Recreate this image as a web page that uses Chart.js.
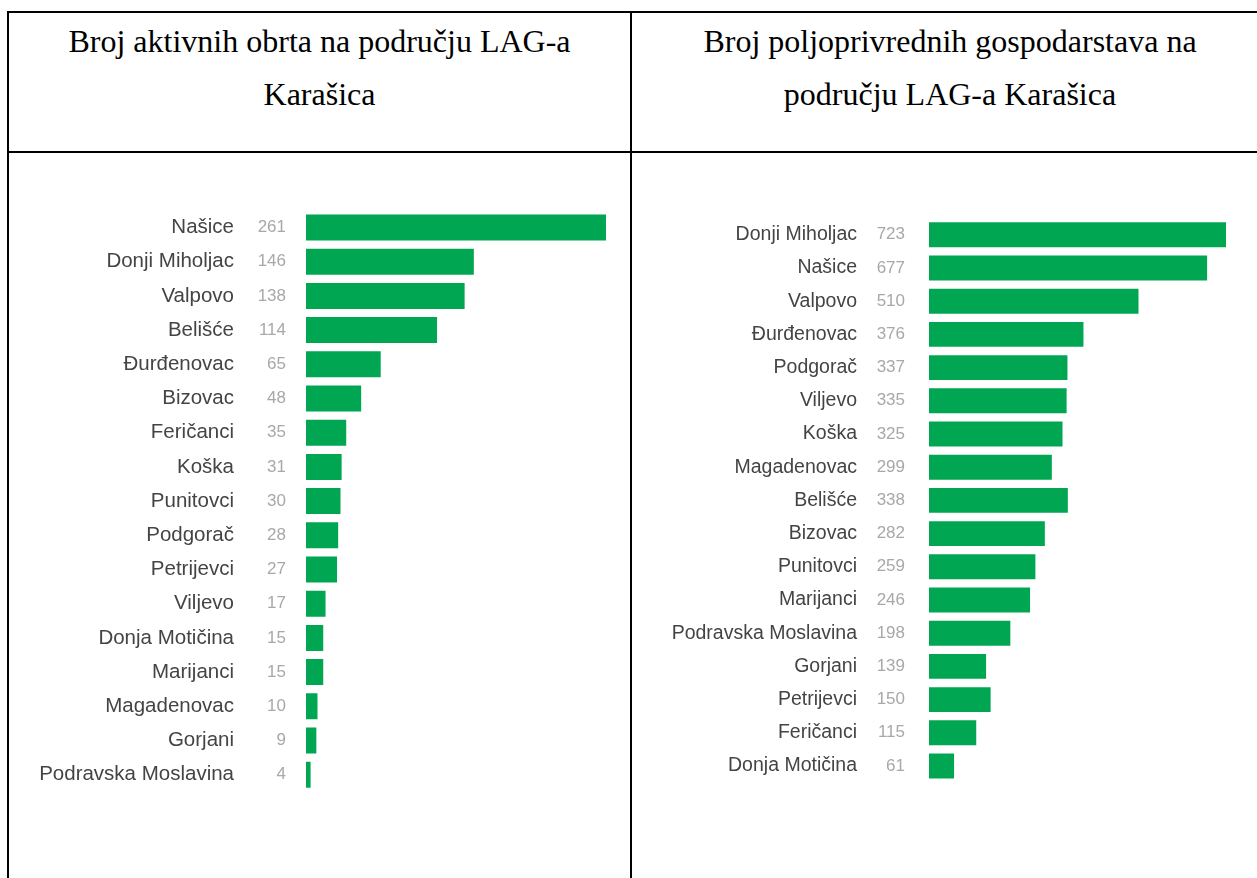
<!DOCTYPE html>
<html lang="hr">
<head>
<meta charset="UTF-8">
<title>LAG Karašica</title>
<script src="https://cdn.jsdelivr.net/npm/chart.js"></script>
<style>
  html, body { margin: 0; padding: 0; background: #fff; overflow: hidden; }
  body { width: 1257px; height: 878px; position: relative; }
  .line { position: absolute; background: #000; }
  .head { position: absolute; top: 15px; font-family: "Liberation Serif", "Times New Roman", serif;
          font-size: 32px; line-height: 53px; text-align: center; color: #000; }
  .box { position: absolute; top: 160px; }
</style>
</head>
<body>
  <!-- table borders -->
  <div class="line" style="left:7px; top:11px; width:1270px; height:2px"></div>
  <div class="line" style="left:7px; top:151px; width:1270px; height:2px"></div>
  <div class="line" style="left:7px; top:11px; width:2px; height:900px"></div>
  <div class="line" style="left:630px; top:11px; width:2px; height:900px"></div>

  <div class="head" style="left:9px; width:621px">Broj aktivnih obrta na području LAG-a<br>Karašica</div>
  <div class="head" style="left:632px; width:636px">Broj poljoprivrednih gospodarstava na<br>području LAG-a Karašica</div>

  <div class="box" style="left:10px"><canvas id="obrti" width="618" height="700"></canvas></div>
  <div class="box" style="left:633px"><canvas id="gospodarstva" width="624" height="700"></canvas></div>

<script>
// aktivni obrti
const obrtiMjesta = ['Našice', 'Donji Miholjac', 'Valpovo', 'Belišće', 'Đurđenovac', 'Bizovac',
  'Feričanci', 'Koška', 'Punitovci', 'Podgorač', 'Petrijevci', 'Viljevo', 'Donja Motičina',
  'Marijanci', 'Magadenovac', 'Gorjani', 'Podravska Moslavina'];
const obrtiBroj = [261, 146, 138, 114, 65, 48, 35, 31, 30, 28, 27, 17, 15, 15, 10, 9, 4];

// poljoprivredna gospodarstva
const gospMjesta = ['Donji Miholjac', 'Našice', 'Valpovo', 'Đurđenovac', 'Podgorač', 'Viljevo',
  'Koška', 'Magadenovac', 'Belišće', 'Bizovac', 'Punitovci', 'Marijanci', 'Podravska Moslavina',
  'Gorjani', 'Petrijevci', 'Feričanci', 'Donja Motičina'];
const gospBroj = [723, 677, 510, 376, 337, 335, 325, 299, 338, 282, 259, 246, 198, 139, 150, 115, 61];

const ZELENA = '#00a651';

function napraviGraf(id, mjesta, broj, o) {
  new Chart(document.getElementById(id), {
    type: 'bar',
    data: {
      labels: mjesta,
      datasets: [{ data: broj, backgroundColor: ZELENA, borderWidth: 0,
                   barPercentage: o.bar, categoryPercentage: 1 }]
    },
    options: {
      indexAxis: 'y',
      responsive: false,
      animation: false,
      layout: { padding: { left: 0, right: o.right, top: o.top, bottom: o.bottom } },
      plugins: { legend: { display: false }, tooltip: { enabled: false } },
      scales: {
        x: { type: 'linear', min: 0, max: o.max, display: false },
        y: {
          type: 'category', position: 'left', weight: 10, offset: true,
          grid: { display: false, drawTicks: false }, border: { display: false },
          ticks: { color: '#444', padding: 12, autoSkip: false,
                   font: { family: "'Liberation Sans', Arial, sans-serif", size: o.fs } },
          afterFit: s => { s.width = 236; }
        },
        yv: {
          type: 'category', axis: 'y', position: 'left', weight: 0, offset: true,
          labels: broj.map(String),
          grid: { display: false, drawTicks: false }, border: { display: false },
          ticks: { color: '#a8a8a8', padding: o.vpad, autoSkip: false,
                   font: { family: "'Liberation Sans Narrow', 'Liberation Sans', Arial, sans-serif", size: 17 } },
          afterFit: s => { s.width = 60; }
        }
      }
    }
  });
}

napraviGraf('obrti', obrtiMjesta, obrtiBroj,
  { max: 261, right: 22, top: 50.4, bottom: 68.2, bar: 0.76, fs: 20.5, vpad: 20 });
napraviGraf('gospodarstva', gospMjesta, gospBroj,
  { max: 723, right: 31, top: 58.2, bottom: 77.4, bar: 0.75, fs: 19.5, vpad: 24 });
</script>
</body>
</html>
